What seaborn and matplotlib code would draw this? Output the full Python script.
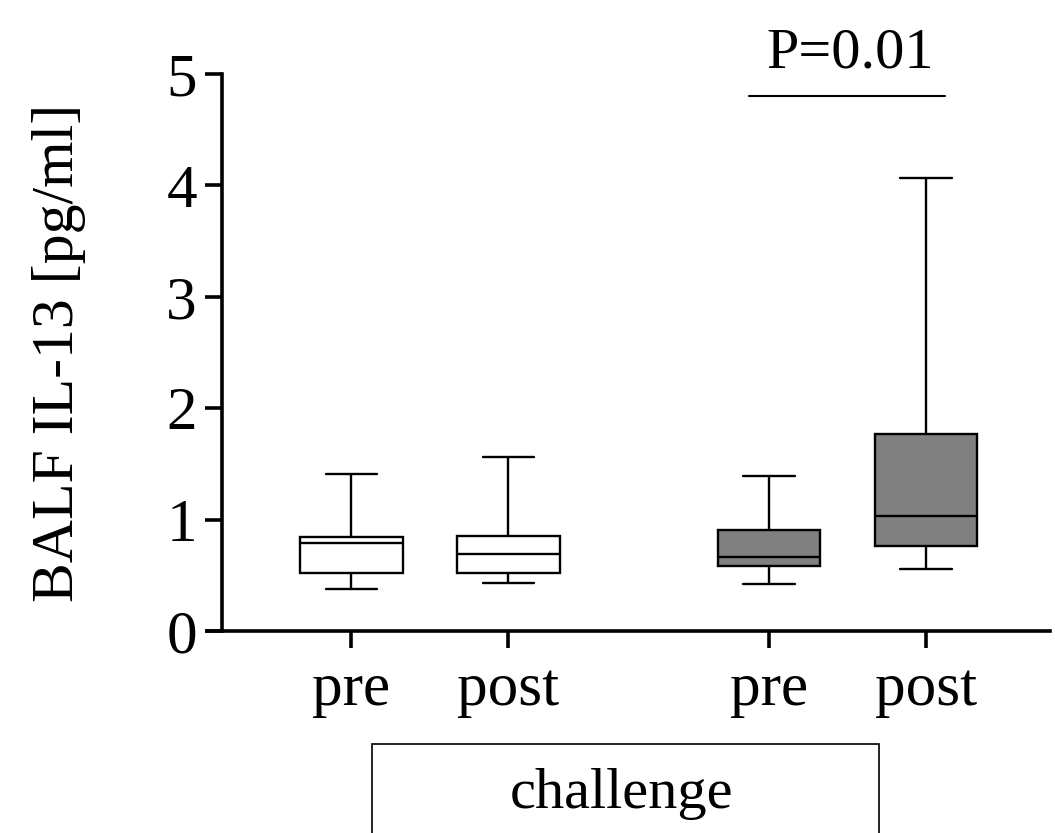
import numpy as np
import pandas as pd
import matplotlib
matplotlib.use("Agg")
import matplotlib.pyplot as plt
from matplotlib.patches import Rectangle
import seaborn as sns

# ---- data (five-number summaries: min, Q1, median, Q3, max)
time_labels = ["pre", "post", "pre", "post"]
group_names = ["control", "control", "challenge", "challenge"]
pre_control = [0.38, 0.52, 0.79, 0.84, 1.41]
post_control = [0.43, 0.52, 0.69, 0.85, 1.56]
pre_challenge = [0.42, 0.58, 0.66, 0.91, 1.39]
post_challenge = [0.56, 0.76, 1.03, 1.77, 4.07]
y_ticks = [0, 1, 2, 3, 4, 5]
y_label = "BALF IL-13 [pg/ml]"
p_text = "P=0.01"
bracket_text = "challenge"

# ---- layout
positions = [0.0, 1.0, 2.66, 3.66]
series = [pre_control, post_control, pre_challenge, post_challenge]

df = pd.DataFrame({
    "pos": np.repeat(positions, 5),
    "value": np.concatenate(series),
    "group": np.repeat(group_names, 5),
})

sns.set_theme(style="ticks")
plt.rcParams["font.family"] = ["Liberation Serif", "DejaVu Serif"]
plt.rcParams["text.color"] = "black"
plt.rcParams["axes.labelcolor"] = "black"

fig = plt.figure(figsize=(10.55, 8.33), dpi=100)
ax = fig.add_axes([207 / 1055, 1 - 631 / 833, 843 / 1055, (631 - 74) / 833])

sns.boxplot(
    data=df, x="pos", y="value", hue="group",
    palette={"control": "white", "challenge": "#808080"},
    native_scale=True, dodge=False, width=0.655, whis=(0, 100),
    linecolor="black", linewidth=1.7, fliersize=0, legend=False, ax=ax,
)

ax.set_xlim(-0.92, 4.45)
ax.set_ylim(0, 5)
ax.set_xticks(positions)
ax.set_xticklabels(time_labels)
ax.set_yticks(y_ticks)
ax.set_yticklabels([str(t) for t in y_ticks])
ax.set_xlabel("")
ax.set_ylabel(y_label, fontsize=43, color="black")
ax.yaxis.set_label_coords(-0.1435, 0.5)

for s in ["top", "right"]:
    ax.spines[s].set_visible(False)
ax.spines["left"].set_position(("data", -0.825))
ax.spines["left"].set_linewidth(2.6)
ax.spines["bottom"].set_linewidth(2.6)
ax.spines["left"].set_color("black")
ax.spines["bottom"].set_color("black")

ax.tick_params(axis="y", length=12, width=2.6, labelsize=44, pad=6, colors="black")
ax.tick_params(axis="x", length=12, width=2.6, labelsize=44, pad=11, colors="black")

# significance bar
ax.plot([2.53, 3.78], [4.80, 4.80], color="black", lw=1.5, clip_on=False)
ax.text(3.175, 5.06, p_text, ha="center", va="baseline", fontsize=42, color="black")

# bracket box under the x axis
rect = Rectangle((372 / 1055, -0.02), (879 - 372) / 1055, 0.02 + 1 - 744 / 833,
                 transform=fig.transFigure, fill=False, edgecolor="black",
                 linewidth=1.2, clip_on=False)
fig.patches.append(rect)
fig.text(622 / 1055, 1 - 808 / 833, bracket_text, ha="center", va="baseline",
         fontsize=42, color="black")

fig.savefig("out.png", dpi=100, facecolor="white")
